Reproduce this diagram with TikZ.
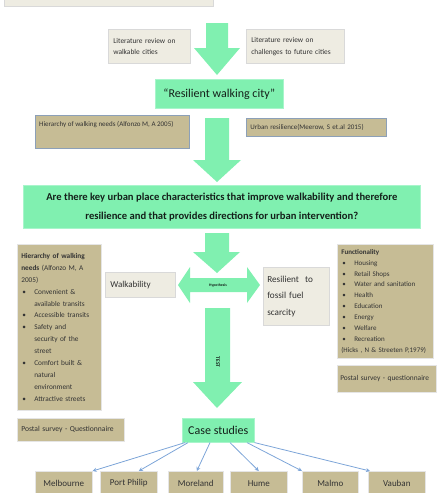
\documentclass[tikz,border=0pt]{standalone}
\usepackage{fontspec}
\setmainfont{Carlito}
\usetikzlibrary{arrows.meta}
\definecolor{grn}{HTML}{80F0B0}
\definecolor{grnedge}{HTML}{A8F5CB}
\definecolor{khaki}{HTML}{C6BC95}
\definecolor{pale}{HTML}{EEECE2}
\definecolor{bluel}{HTML}{7DA5D8}
\definecolor{bluegray}{HTML}{8CA0B8}
\definecolor{txt}{HTML}{333333}
\definecolor{dtxt}{HTML}{14201A}
\newcommand\fs[2]{\fontsize{#1}{#2}\selectfont}
\newcommand\blt{\makebox[13pt][l]{\hspace{1pt}\textbullet}}
\newcommand\ind{\hspace*{13pt}}
\tikzset{
  box/.style={anchor=north west, inner sep=0pt, line width=0.6pt, text=txt},
  palebox/.style={box, fill=pale, draw=gray!30},
  khakibox/.style={box, fill=khaki, draw=white!80!gray},
  bluebox/.style={box, fill=khaki, draw=bluegray, line width=0.8pt},
  greenbox/.style={box, fill=grn, draw=grnedge, text=dtxt},
  blockarrow/.style={fill=grn, draw=none},
  link/.style={draw=bluel, line width=0.8pt, -{Stealth[length=4pt,width=4pt]}},
}
\begin{document}
\begin{tikzpicture}[x=1pt,y=-1pt]
\useasboundingbox (0,0) rectangle (439,493);

% top (cut off) box
\node[palebox, anchor=south west, minimum width=209, minimum height=16] (top) at (4,7) {};

% literature review boxes
\node[palebox, minimum width=79, minimum height=34, inner xsep=5pt, text width=72pt, align=left, font=\fs{7.4}{11.6}] (lit1) at (108,29) {Literature review on\\walkable cities};
\node[palebox, minimum width=94, minimum height=34, inner xsep=5pt, text width=88pt, align=left, font=\fs{7.4}{11.6}] (lit2) at (246,29) {Literature review on\\challenges to future cities};

% arrow 1
\fill[blockarrow] (206,23) -- (228,23) -- (228,48) -- (240,48) -- (217,75) -- (194,48) -- (206,48) -- cycle;

\node[greenbox, minimum width=128, minimum height=29, font=\fs{12}{13}] (rwc) at (155,79) {“Resilient walking city”};

% theory boxes
\node[bluebox, minimum width=154, minimum height=33] (hier1) at (35,115) {};
\node[anchor=west, inner sep=0pt, text=txt, font=\fs{7}{8}] (hier1t) at (39,125) {Hierarchy of walking needs (Alfonzo M, A 2005)};
\node[bluebox, minimum width=137, minimum height=18, inner xsep=4pt, text width=132pt, align=left, font=\fs{7}{8}] (urb) at (246,118) {Urban resilience(Meerow, S et.al 2015)};

% arrow 2
\fill[blockarrow] (205,118) -- (229,118) -- (229,160) -- (241,160) -- (217,182) -- (193,160) -- (205,160) -- cycle;

% question
\node[greenbox, minimum width=397, minimum height=43, align=center, font=\bfseries\fs{10.6}{19}] (q) at (23,185) {Are there key urban place characteristics that improve walkability and therefore\\resilience and that provides directions for urban intervention?};

% arrow 3
\fill[blockarrow] (205,233) -- (229,233) -- (229,252) -- (240,252) -- (217,273) -- (193,252) -- (205,252) -- cycle;

% hypothesis double arrow
\fill[blockarrow] (178,285) -- (190,267) -- (190,278) -- (247,278) -- (247,267) -- (260,285) -- (247,303) -- (247,292) -- (190,292) -- (190,303) -- cycle;
\node[inner sep=0pt, text=dtxt, font=\bfseries\fs{3.8}{4}] (hyp) at (218,285) {Hypothesis};

\node[palebox, minimum width=66, minimum height=25, inner xsep=5pt, text width=60pt, align=left, font=\fs{9}{10}] (walk) at (105,272) {Walkability};
\node[palebox, minimum width=64, minimum height=58, inner xsep=4pt, text width=58pt, align=left, font=\fs{9.2}{16.5}] (res) at (263,267) {Resilient\ \ to\\fossil fuel\\scarcity};

% test arrow
\fill[blockarrow] (205,308) -- (230,308) -- (230,382) -- (242,382) -- (217,408) -- (193,382) -- (205,382) -- cycle;
\node[inner sep=0pt, rotate=-90, text=dtxt, font=\bfseries\fs{5.5}{6}] (test) at (218,362) {TEST};

% left list box
\node[khakibox, minimum width=81, minimum height=166, inner xsep=4pt, text width=76pt, align=left, font=\fs{7.3}{11.9}] (hier2) at (17,244) {\textbf{Hierarchy of walking}\\
\textbf{needs} (Alfonzo M, A\\
2005)\\
\blt Convenient \&\\
\ind available transits\\
\blt Accessible transits\\
\blt Safety and\\
\ind security of the\\
\ind street\\
\blt Comfort built \&\\
\ind natural\\
\ind environment\\
\blt Attractive streets};

% right list box
\node[khakibox, minimum width=92, minimum height=114, inner xsep=4pt, text width=88pt, align=left, font=\fs{7}{10.9}] (func) at (337,244) {\textbf{Functionality}\\
\blt Housing\\
\blt Retail Shops\\
\blt Water and sanitation\\
\blt Health\\
\blt Education\\
\blt Energy\\
\blt Welfare\\
\blt Recreation\\
(Hicks , N \& Streeten P,1979)};

\node[khakibox, minimum width=103, minimum height=23, inner xsep=4pt, text width=99pt, align=left, font=\fs{7.6}{8}] (post1) at (17,418) {Postal survey - Questionnaire};
\node[khakibox, minimum width=96, minimum height=27, inner xsep=3pt, text width=93pt, align=left, font=\fs{7.4}{8}] (post2) at (337,365) {Postal survey - questionnaire};

% case studies
\node[greenbox, minimum width=72, minimum height=24, font=\fs{12}{13}] (cs) at (182,418) {Case studies};

\node[khakibox, minimum width=57, minimum height=24, font=\fs{9}{10}] (mel) at (35,471) {Melbourne};
\node[khakibox, minimum width=57, minimum height=24, font=\fs{9}{10}] (pp) at (100,471) {Port Philip};
\node[khakibox, minimum width=55, minimum height=24, font=\fs{9}{10}] (mor) at (168,471) {Moreland};
\node[khakibox, minimum width=57, minimum height=24, font=\fs{9}{10}] (hume) at (230,471) {Hume};
\node[khakibox, minimum width=56, minimum height=24, font=\fs{9}{10}] (mal) at (302,471) {Malmo};
\node[khakibox, minimum width=57, minimum height=24, font=\fs{9}{10}] (vau) at (368,471) {Vauban};

\draw[link] ([xshift=3pt]cs.south west) -- (mel.north east);
\draw[link] ([xshift=6pt]cs.south west) -- ([xshift=10pt]pp.north);
\draw[link] ([xshift=28pt]cs.south west) -- ([xshift=1pt]mor.north);
\draw[link] ([xshift=48pt]cs.south west) -- (hume.north);
\draw[link] ([xshift=65pt]cs.south west) -- (mal.north west);
\draw[link] (cs.south east) -- ([xshift=2pt]vau.north west);
\end{tikzpicture}
\end{document}
